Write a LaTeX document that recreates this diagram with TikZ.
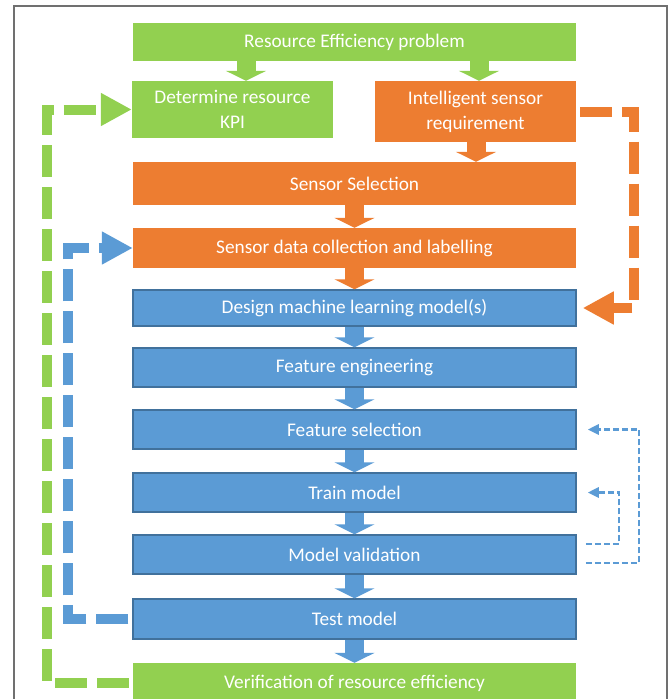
\documentclass[tikz,border=0pt]{standalone}
\usepackage{fontspec}
\setmainfont{Carlito}
\usetikzlibrary{arrows.meta,calc}
\definecolor{cgreen}{HTML}{92D050}
\definecolor{corange}{HTML}{ED7D31}
\definecolor{cblue}{HTML}{5B9BD5}
\definecolor{cblueb}{HTML}{41719C}
\definecolor{cframe}{HTML}{707070}
\tikzset{
  box/.style={minimum width=443pt, inner sep=0pt, text=white, font=\fontsize{19.3}{25}\selectfont, align=center},
  gbox/.style={box, fill=cgreen},
  obox/.style={box, fill=corange},
  bbox/.style={box, fill=cblue, draw=cblueb, line width=1.5pt},
  barrow/.style={line width=19pt, -{Triangle[width=40pt,length=10pt]}},
  fbarrow/.style={line width=10pt, dash pattern=on 32pt off 10pt, -{Triangle[width=31pt,length=31pt]}},
  tharrow/.style={cblue, line width=2.6pt, dash pattern=on 6pt off 3pt, -{Triangle[width=10pt,length=11pt]}}
}
\begin{document}
\begin{tikzpicture}[x=1pt,y=-1pt]
\useasboundingbox (0,0) rectangle (669,699);
\clip (0,0) rectangle (669,699);
\draw[cframe, line width=1.5pt] (14,6) rectangle (667,740);

\node[gbox, minimum height=38pt] (top) at (354.5,42) {Resource Efficiency problem};
\node[gbox, minimum width=201pt, minimum height=57pt] (det) at (232.5,109.5) {Determine resource\\KPI};
\node[obox, minimum width=201pt, minimum height=61pt] (isr) at (475.5,111.5) {Intelligent sensor\\requirement};
\node[obox, minimum height=43pt] (ss) at (354.5,183.5) {Sensor Selection};
\node[obox, minimum height=40pt] (sdc) at (354.5,248) {Sensor data collection and labelling};
\node[bbox, minimum height=36pt] (dml) at (354.5,308) {Design machine learning model(s)};
\node[bbox, minimum height=39pt] (fe) at (354.5,367.5) {Feature engineering};
\node[bbox, minimum height=39pt] (fs) at (354.5,429.5) {Feature selection};
\node[bbox, minimum height=39pt] (tm) at (354.5,492.5) {Train model};
\node[bbox, minimum height=39pt] (mv) at (354.5,554.5) {Model validation};
\node[bbox, minimum height=40pt] (test) at (354.5,619) {Test model};
\node[gbox, minimum height=40pt] (ver) at (354.5,683) {Verification of resource efficiency};

% block arrows
\coordinate (xa) at (246,0);
\coordinate (xb) at (479,0);
\coordinate (xc) at (476,0);
\draw[barrow, cgreen] (top.south -| xa) -- (det.north -| xa);
\draw[barrow, cgreen] (top.south -| xb) -- (isr.north -| xb);
\draw[barrow, corange] (isr.south -| xc) -- (ss.north -| xc);
\draw[barrow, corange] (ss.south) -- (sdc.north);
\draw[barrow, corange] (sdc.south) -- (dml.north);
\draw[barrow, cblue] (dml.south) -- (fe.north);
\draw[barrow, cblue] (fe.south) -- (fs.north);
\draw[barrow, cblue] (fs.south) -- (tm.north);
\draw[barrow, cblue] (tm.south) -- (mv.north);
\draw[barrow, cblue] (mv.south) -- (test.north);
\draw[barrow, cblue] (test.south) -- (ver.north);

% thick dashed feedback loops
\coordinate (gx) at (47,0);
\coordinate (bx) at (68,0);
\coordinate (ox) at (634,0);
\draw[fbarrow, cgreen] ($(ver.west)+(-4,0)$) -| (gx |- det.west) -- (det.west);
\draw[fbarrow, cblue] ($(test.west)+(-4,0)$) -| (bx |- sdc.west) -- (sdc.west);
\draw[fbarrow, corange] ($(isr.east)+(4,0)$) -| (ox |- dml.east) -- ($(dml.east)+(6,0)$);

% thin dashed loops
\coordinate (t1x) at (639,0);
\coordinate (t2x) at (619,0);
\draw[tharrow] ($(mv.east)+(9,8.5)$) -| (t1x |- fs.east) -- ($(fs.east)+(11,0)$);
\draw[tharrow] ($(mv.east)+(9,-10.5)$) -| (t2x |- tm.east) -- ($(tm.east)+(11,0)$);
\end{tikzpicture}
\end{document}
